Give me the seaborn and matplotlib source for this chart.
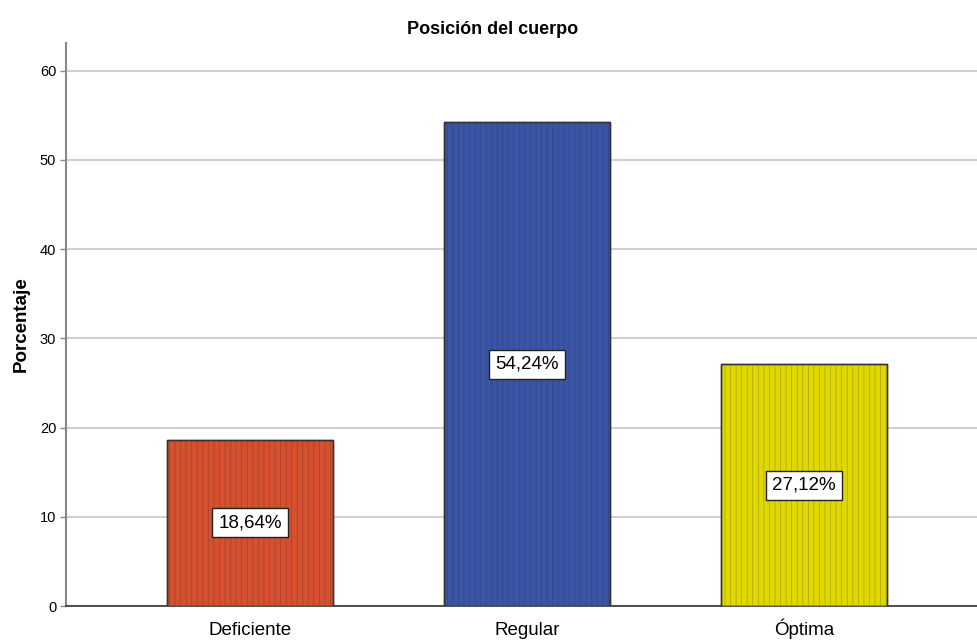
import matplotlib
matplotlib.use("Agg")
import matplotlib.pyplot as plt
import seaborn as sns
import pandas as pd

categories = ["Deficiente", "Regular", "Óptima"]
values = [18.64, 54.24, 27.12]
labels = ["18,64%", "54,24%", "27,12%"]
colors = ["#D4502F", "#3A55A4", "#E0D800"]
hatch_colors = ["#A4402A", "#2D4588", "#A8A200"]

sns.set_style("white")
plt.rcParams['font.family'] = ['Liberation Sans', 'DejaVu Sans']
plt.rcParams['hatch.linewidth'] = 0.5
plt.rcParams['text.color'] = 'black'
plt.rcParams['xtick.color'] = 'black'
plt.rcParams['ytick.color'] = 'black'
plt.rcParams['axes.labelcolor'] = 'black'

fig = plt.figure(figsize=(9.77, 6.42), dpi=100)
ax = fig.add_axes([66/977, 1-606/642, 1-66/977, (606-43)/642])

df = pd.DataFrame({"cat": categories, "val": values})
sns.barplot(data=df, x="cat", y="val", hue="cat", palette=colors, width=0.6,
            saturation=1, legend=False, ax=ax, edgecolor="#333333",
            linewidth=1.0, zorder=3)
for p, hc in zip(ax.patches, hatch_colors):
    r = plt.Rectangle(p.get_xy(), p.get_width(), p.get_height(), fill=False,
                      hatch='|||', edgecolor=hc, linewidth=0, zorder=3.5)
    ax.add_patch(r)
    ol = plt.Rectangle(p.get_xy(), p.get_width(), p.get_height(), fill=False,
                       edgecolor="#333333", linewidth=1.0, zorder=3.6)
    ax.add_patch(ol)

for i, (v, lab) in enumerate(zip(values, labels)):
    ax.text(i, v/2, lab, ha="center", va="center", fontsize=13.5, zorder=5,
            bbox=dict(boxstyle="square,pad=0.32", fc="white", ec="#222222", lw=1.0))

ax.set_xlim(-0.664, 2.625)
ax.set_ylim(0, 63.1)
ax.set_yticks([0, 10, 20, 30, 40, 50, 60])
ax.yaxis.grid(True, color="#D0D0D0", linewidth=1.5, zorder=0)
ax.set_axisbelow(True)
ax.set_xlabel("")
ax.set_ylabel("Porcentaje", fontsize=13.5, fontweight="bold")
ax.yaxis.set_label_coords(-0.040, 0.5)
ax.tick_params(axis="y", labelsize=10.5, length=4, width=1, color="#888888", left=True, pad=3)
ax.tick_params(axis="x", labelsize=13.5, length=0, pad=21)
for t in ax.get_xticklabels():
    t.set_verticalalignment("baseline")
for s in ["top", "right"]:
    ax.spines[s].set_visible(False)
ax.spines["left"].set_color("#888888")
ax.spines["left"].set_linewidth(1.5)
ax.spines["bottom"].set_color("#333333")
ax.spines["bottom"].set_linewidth(1.2)

fig.text(493/977, 1-29/642, "Posición del cuerpo", ha="center", va="center",
         fontsize=13, fontweight="bold")

fig.savefig("out.png", dpi=100)
